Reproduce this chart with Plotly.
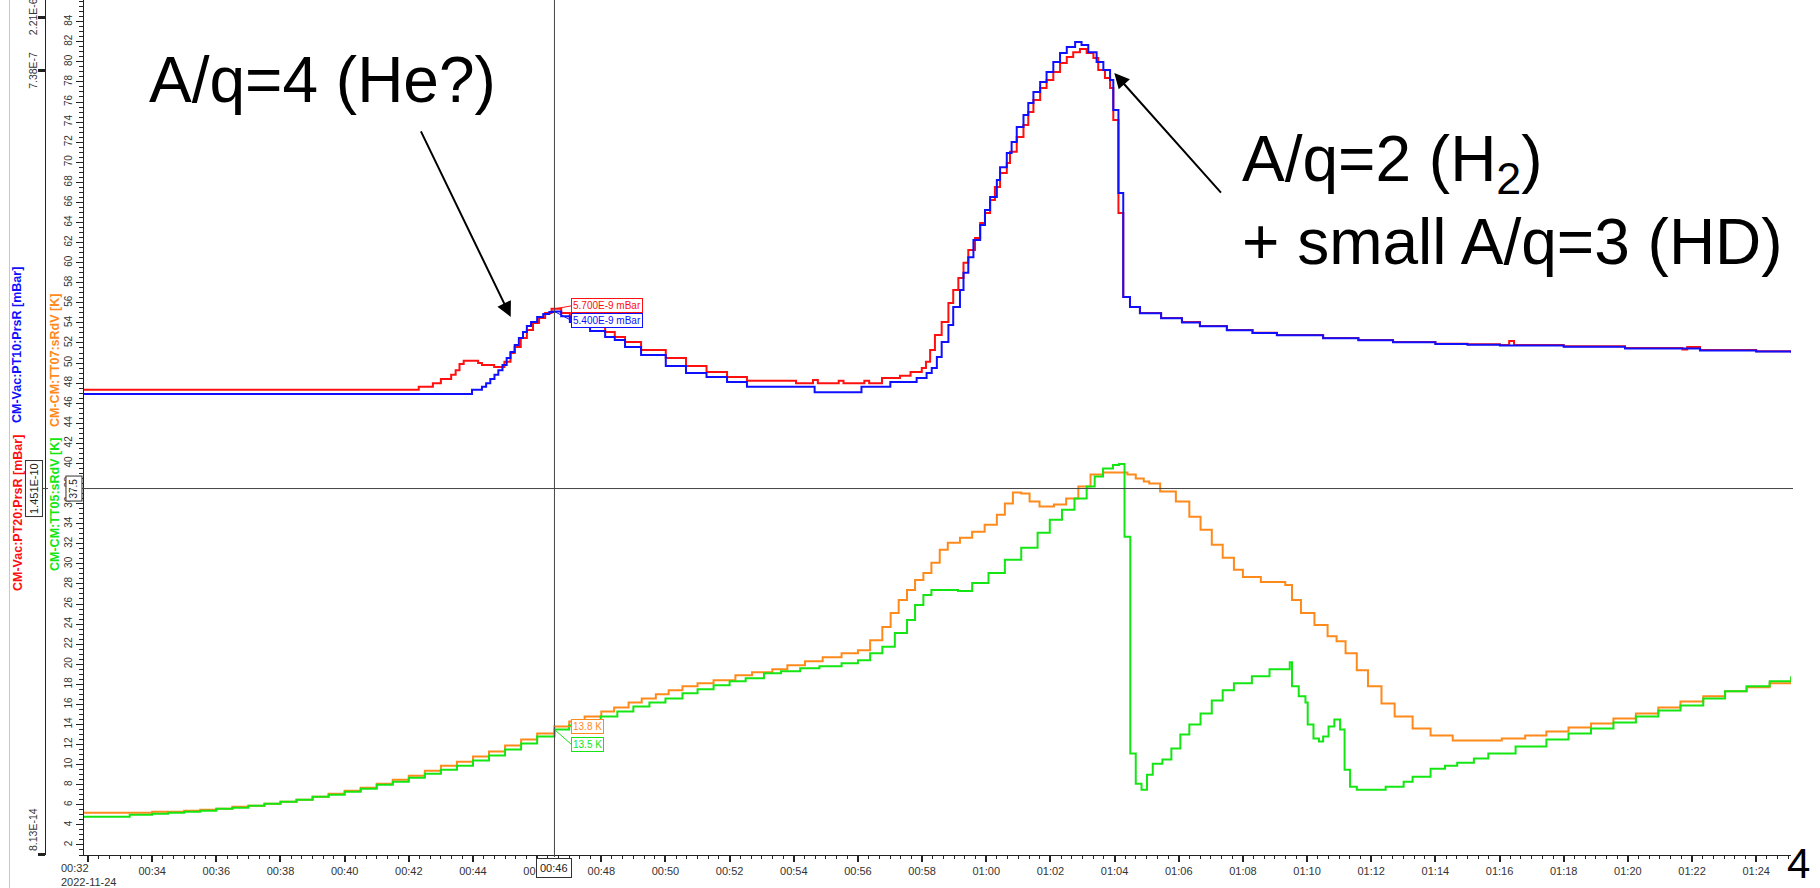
import numpy as np
import pandas as pd
import plotly.graph_objects as go

# ---------------------------------------------------------------- data
START = pd.Timestamp("2022-11-24 00:32:00")

# CM-Vac:PT20:PrsR  (red)  time in minutes after 00:32, pressure in mBar
pt20_min = [-0.13, 10.31, 10.75, 11.00, 11.32, 11.46, 11.58, 11.71, 12.16, 12.28, 12.66, 12.98,
            13.17, 13.30, 13.49, 13.68, 13.87, 14.06, 14.25, 14.45, 14.75, 15.02, 15.65, 16.12,
            16.42, 16.74, 17.24, 18.01, 18.64, 19.28, 19.92, 20.54, 22.07, 22.60, 22.75, 23.40,
            23.55, 24.20, 24.35, 24.75, 25.31, 25.64, 25.99, 26.12, 26.25, 26.40, 26.61, 26.82,
            26.97, 27.13, 27.29, 27.44, 27.65, 27.81, 27.96, 28.12, 28.27, 28.43, 28.64, 28.74,
            28.95, 29.16, 29.31, 29.47, 29.68, 29.88, 30.09, 30.30, 30.51, 30.71, 30.92, 31.13,
            31.34, 31.49, 31.70, 31.86, 31.96, 32.12, 32.27, 32.48, 32.79, 33.45, 34.10, 34.66,
            35.50, 36.30, 37.06, 38.50, 39.60, 40.68, 42.00, 43.00, 44.01, 44.30, 44.45, 46.00,
            47.91, 49.70, 49.85, 50.25, 52.00, 53.09]
pt20_mbar = [1.09e-9, 1.16e-9, 1.25e-9, 1.36e-9, 1.48e-9, 1.63e-9, 1.85e-9, 1.97e-9, 1.89e-9,
             1.81e-9, 1.74e-9, 1.93e-9, 2.31e-9, 2.62e-9, 3.14e-9, 3.70e-9, 4.27e-9, 4.73e-9,
             5.24e-9, 5.70e-9, 5.24e-9, 4.73e-9, 4.02e-9, 3.55e-9, 3.21e-9, 2.90e-9, 2.46e-9,
             2.09e-9, 1.77e-9, 1.57e-9, 1.42e-9, 1.31e-9, 1.25e-9, 1.33e-9, 1.25e-9, 1.31e-9,
             1.25e-9, 1.31e-9, 1.25e-9, 1.39e-9, 1.45e-9, 1.57e-9, 1.70e-9, 1.93e-9, 2.46e-9,
             3.34e-9, 4.36e-9, 6.43e-9, 8.38e-9, 1.07e-8, 1.46e-8, 1.90e-8, 2.42e-8, 3.29e-8,
             4.04e-8, 5.27e-8, 6.87e-8, 9.15e-8, 1.12e-7, 1.41e-7, 1.91e-7, 2.44e-7, 3.18e-7,
             4.07e-7, 5.20e-7, 6.12e-7, 7.20e-7, 8.66e-7, 9.79e-7, 1.08e-6, 1.15e-6, 1.06e-6,
             9.59e-7, 7.50e-7, 6.37e-7, 5.20e-7, 2.70e-7, 4.04e-8, 7.26e-9, 5.92e-9, 5.24e-9,
             4.73e-9, 4.35e-9, 4.02e-9, 3.70e-9, 3.50e-9, 3.34e-9, 3.14e-9, 3.02e-9, 2.90e-9,
             2.80e-9, 2.76e-9, 2.72e-9, 2.95e-9, 2.72e-9, 2.65e-9, 2.56e-9, 2.48e-9, 2.62e-9,
             2.46e-9, 2.40e-9, 2.35e-9]

# CM-Vac:PT10:PrsR  (blue)
pt10_min = [-0.13, 11.97, 12.28, 12.41, 12.54, 12.67, 12.79, 12.92, 13.05, 13.17, 13.30, 13.43,
            13.56, 13.68, 13.81, 14.00, 14.19, 14.38, 14.50, 14.75, 15.02, 15.65, 16.12, 16.42,
            16.74, 17.24, 18.01, 18.64, 19.28, 19.92, 20.54, 22.65, 24.11, 25.01, 25.83, 26.14,
            26.30, 26.46, 26.61, 26.82, 26.97, 27.18, 27.29, 27.44, 27.60, 27.81, 27.96, 28.12,
            28.33, 28.43, 28.64, 28.79, 28.95, 29.16, 29.31, 29.47, 29.68, 29.88, 30.09, 30.30,
            30.51, 30.77, 30.97, 31.18, 31.44, 31.65, 31.86, 31.96, 32.12, 32.27, 32.48, 32.79,
            33.45, 34.10, 34.66, 35.50, 36.30, 37.06, 38.50, 39.60, 40.68, 42.00, 43.00, 44.01,
            46.00, 47.91, 50.25, 52.00, 53.09]
pt10_mbar = [1.00e-9, 1.09e-9, 1.16e-9, 1.25e-9, 1.36e-9, 1.48e-9, 1.63e-9, 1.81e-9, 2.09e-9,
             2.36e-9, 2.72e-9, 3.14e-9, 3.55e-9, 4.02e-9, 4.36e-9, 4.83e-9, 5.13e-9, 5.34e-9,
             5.40e-9, 4.90e-9, 4.36e-9, 3.63e-9, 3.21e-9, 3.02e-9, 2.62e-9, 2.22e-9, 1.77e-9,
             1.54e-9, 1.42e-9, 1.28e-9, 1.16e-9, 1.04e-9, 1.16e-9, 1.28e-9, 1.39e-9, 1.54e-9,
             1.70e-9, 2.13e-9, 2.90e-9, 4.10e-9, 5.92e-9, 8.38e-9, 1.19e-8, 1.64e-8, 2.33e-8,
             3.16e-8, 4.30e-8, 5.60e-8, 7.93e-8, 1.03e-7, 1.38e-7, 1.72e-7, 2.34e-7, 2.99e-7,
             3.82e-7, 4.79e-7, 5.87e-7, 7.20e-7, 8.84e-7, 1.06e-6, 1.20e-6, 1.33e-6, 1.25e-6,
             1.08e-6, 8.84e-7, 7.50e-7, 6.12e-7, 3.31e-7, 6.08e-8, 7.26e-9, 5.92e-9, 5.20e-9,
             4.70e-9, 4.32e-9, 4.00e-9, 3.68e-9, 3.48e-9, 3.32e-9, 3.12e-9, 3.00e-9, 2.88e-9,
             2.78e-9, 2.74e-9, 2.70e-9, 2.63e-9, 2.54e-9, 2.44e-9, 2.38e-9, 2.33e-9]

# CM-CM:TT07:sRdV  (orange)  temperature in K
tt07_min = [-0.13, 0.5, 1.0, 1.5, 2.0, 2.5, 3.0, 3.5, 4.0, 4.5, 5.0, 5.5, 6.0, 6.5, 7.0, 7.5,
            8.0, 8.5, 9.0, 9.5, 10.0, 10.5, 11.0, 11.5, 12.0, 12.5, 13.0, 13.5, 14.0, 14.54,
            15.0, 15.48, 16.0, 16.4,
            16.85, 17.26, 17.7, 18.1, 18.53, 19.0, 19.5, 20.18, 20.7, 21.33, 21.8, 22.35, 22.9,
            23.49, 24.0, 24.38, 24.76, 25.02, 25.27, 25.53, 25.78, 26.04, 26.29, 26.55, 26.8,
            27.18, 27.56, 27.95, 28.33, 28.58, 28.83, 29.09, 29.35, 29.66, 30.11, 30.49, 30.87,
            31.25, 31.64, 32.02, 32.40, 32.66, 32.91, 33.08, 33.42, 33.91, 34.33, 34.68, 35.03,
            35.37, 35.72, 36.0, 36.56, 37.32, 37.53, 37.81, 38.23, 38.64, 38.92, 39.2, 39.55,
            39.9, 40.32, 40.73, 41.29, 41.85, 42.54, 43.38, 44.07, 44.8, 45.46, 46.15, 46.85,
            47.55, 48.25, 48.95, 49.64, 50.35, 51.03, 51.7, 52.42, 53.09]
tt07_K = [5.2, 5.2, 5.2, 5.2, 5.3, 5.3, 5.4, 5.5, 5.6, 5.8, 5.9, 6.1, 6.3, 6.5, 6.8, 7.1, 7.4,
          7.7, 8.1, 8.5, 8.9, 9.4, 9.9, 10.3, 10.8, 11.3, 11.9, 12.5, 13.1, 13.8,
          14.3, 14.8, 15.3, 15.7, 16.2, 16.6, 17.0, 17.4, 17.8, 18.1, 18.4, 18.9, 19.2, 19.5, 19.9,
          20.3, 20.7, 21.1, 21.4, 22.4, 23.7, 25.1, 26.4, 27.4, 28.4, 29.1, 30.1, 31.4, 32.1, 32.6,
          33.2, 33.9, 34.9, 36.0, 37.1, 37.0, 36.2, 35.7, 35.9, 36.5, 37.7, 38.9, 39.1, 39.1, 38.9,
          38.5, 38.2, 38.0, 37.2, 36.2, 34.7, 33.4, 31.9, 30.6, 29.4, 28.7, 28.2, 27.9, 26.4, 25.1,
          23.9, 22.8, 22.3, 21.1, 19.4, 17.8, 16.1, 14.8, 13.6, 12.9, 12.4, 12.4, 12.6, 12.9, 13.3,
          13.7, 14.1, 14.6, 15.1, 15.7, 16.3, 16.8, 17.3, 17.7, 18.1, 18.6]

# CM-CM:TT05:sRdV  (green)
tt05_min = [-0.13, 0.5, 1.0, 1.3, 2.0, 2.5, 3.0, 3.5, 4.0, 4.5, 5.0, 5.5, 6.0, 6.5, 7.0, 7.5,
            8.0, 8.5, 9.0, 9.5, 10.0, 10.5, 11.0, 11.5, 12.0, 12.5, 13.0, 13.5, 14.0, 14.54,
            15.0, 15.5, 15.98,
            16.5, 17.0, 17.5, 18.0, 18.53, 19.0, 19.5, 20.0, 20.5, 21.07, 21.6, 22.2, 22.8, 23.49,
            24.0, 24.38, 24.76, 25.15, 25.53, 25.78, 26.04, 26.29, 26.8, 27.12, 27.56, 28.07,
            28.58, 29.09, 29.6, 29.98, 30.36, 30.75, 31.13, 31.38, 31.64, 31.95, 32.14, 32.31,
            32.49, 32.66, 32.84, 33.01, 33.19, 33.49, 33.77, 34.05, 34.33, 34.68, 35.03, 35.37,
            35.72, 36.28, 36.83, 37.46, 37.53, 37.74, 37.95, 38.02, 38.2, 38.37, 38.5, 38.67,
            38.85, 39.03, 39.17, 39.34, 39.55, 40.45, 41.01, 41.29, 41.85, 42.3, 42.68, 43.2,
            43.65, 44.5, 45.46, 46.15, 46.85, 47.55, 48.25, 48.95, 49.64, 50.35, 51.03, 51.7,
            52.42, 53.09]
tt05_K = [4.8, 4.8, 4.8, 5.0, 5.1, 5.2, 5.3, 5.4, 5.6, 5.7, 5.9, 6.1, 6.3, 6.5, 6.8, 7.0, 7.3,
          7.6, 8.0, 8.3, 8.7, 9.1, 9.5, 9.9, 10.4, 10.9, 11.5, 12.1, 12.8, 13.5,
          13.9, 14.3, 14.8, 15.3, 15.8, 16.2, 16.6, 17.1, 17.5, 17.9, 18.3, 18.6, 19.1, 19.3, 19.6,
          19.8, 20.1, 20.4, 21.1, 21.75, 23.1, 24.4, 25.9, 26.9, 27.4, 27.4, 27.3, 28.1, 29.1, 30.4,
          31.6, 33.1, 34.4, 35.4, 36.5, 37.7, 38.7, 39.5, 39.85, 39.95, 32.7, 11.1, 8.1, 7.5, 9.0,
          10.1, 10.5, 11.6, 13.0, 14.0, 15.1, 16.4, 17.4, 18.1, 18.8, 19.5, 20.2, 17.8, 16.8, 16.2,
          14.0, 12.6, 12.3, 12.8, 13.8, 14.5, 13.5, 9.5, 7.8, 7.5, 7.8, 8.3, 8.8, 9.6, 9.9, 10.2,
          10.6, 11.1, 11.8, 12.5, 13.1, 13.6, 14.2, 14.8, 15.4, 15.9, 16.6, 17.3, 17.8, 18.3, 18.8]

# cursor read-outs
cursor_min = 14.54
cursor_pt20, cursor_pt10 = 5.700e-9, 5.400e-9
cursor_tt07, cursor_tt05 = 13.8, 13.5
cursor_level_K, cursor_level_mbar = 37.5, 1.451e-10

# axes
x_range_min = [-0.125, 53.085]
x_tick_min = list(range(0, 53, 2))
temp_range = [1.0, 86.16]
temp_ticks = list(range(2, 85, 2))
pres_range_log = [-13.09, -5.5036]
pres_ticks = [8.13e-14, 7.38e-7, 2.21e-6]
pres_ticktext = ["8.13E-14", "7.38E-7", "2.21E-6"]

# ---------------------------------------------------------------- helpers
W, H = 1820, 888
PB = 855  # bottom of plotting area in px


def px(x):
    return x / W


def py(y):
    return (PB - y) / PB


def at(m):
    return START + pd.to_timedelta(np.asarray(m, dtype=float), unit="min")


def sci(v):
    mant, ex = f"{v:.3E}".split("E")
    return f"{mant}E{int(ex)}"


RED, BLUE, ORANGE, GREEN = "#ff1010", "#1010ff", "#ff8a1c", "#14e614"
INK = "#222222"
FONT = "Liberation Sans, Arial, sans-serif"

fig = go.Figure()
fig.add_trace(go.Scatter(x=at(tt07_min), y=tt07_K, mode="lines", name="CM-CM:TT07:sRdV",
                         line=dict(color=ORANGE, width=2, shape="hv")))
fig.add_trace(go.Scatter(x=at(tt05_min), y=tt05_K, mode="lines", name="CM-CM:TT05:sRdV",
                         line=dict(color=GREEN, width=2, shape="hv")))
fig.add_trace(go.Scatter(x=at(pt20_min), y=pt20_mbar, yaxis="y2", mode="lines", name="CM-Vac:PT20:PrsR",
                         line=dict(color=RED, width=2, shape="hv")))
fig.add_trace(go.Scatter(x=at(pt10_min), y=pt10_mbar, yaxis="y2", mode="lines", name="CM-Vac:PT10:PrsR",
                         line=dict(color=BLUE, width=2, shape="hv")))

tick_times = at(x_tick_min)
tick_text = ["" if i == 0 else t.strftime("%H:%M") for i, t in enumerate(tick_times)]
cursor_t = at([cursor_min])[0]

fig.update_layout(
    width=W, height=H, template="none",
    margin=dict(l=0, r=0, t=0, b=H - PB, pad=0),
    paper_bgcolor="white", plot_bgcolor="white", showlegend=False,
    font=dict(family=FONT, color="#333", size=11),
    xaxis=dict(type="date", domain=[px(84), px(1791)], range=list(at(x_range_min)),
               tickmode="array", tickvals=list(tick_times), ticktext=tick_text,
               ticks="outside", ticklen=6, tickwidth=2, tickcolor=INK,
               showline=True, linecolor=INK, linewidth=1, showgrid=False, zeroline=False,
               tickfont=dict(size=11, color="#333"), automargin=False,
               minor=dict(tickmode="linear", tick0=START, dtick=20000, ticks="outside",
                          ticklen=3, tickwidth=1, tickcolor=INK, showgrid=False)),
    yaxis=dict(range=temp_range, tickmode="array", tickvals=temp_ticks, tickangle=-90,
               ticks="outside", ticklen=7, tickwidth=1, tickcolor=INK,
               showline=True, linecolor=INK, linewidth=1, showgrid=False, zeroline=False,
               tickfont=dict(size=10, color="#333"), automargin=False,
               minor=dict(tickmode="linear", tick0=0, dtick=0.5, ticks="outside",
                          ticklen=4, tickwidth=1, tickcolor=INK, showgrid=False)),
    yaxis2=dict(type="log", range=pres_range_log, overlaying="y", anchor="free",
                position=px(45), side="left", tickmode="array", tickvals=pres_ticks,
                showticklabels=False, ticks="outside", ticklen=7, tickwidth=3, tickcolor=INK,
                showline=True, linecolor=INK, linewidth=1, showgrid=False, zeroline=False,
                automargin=False),
)

shapes = [
    # frame line far left
    dict(type="line", xref="paper", yref="paper", x0=px(9.5), x1=px(9.5), y0=py(H), y1=1,
         line=dict(color="#c8c8c8", width=1)),
    # cursor vertical
    dict(type="line", xref="x", yref="paper", x0=cursor_t, x1=cursor_t, y0=py(857), y1=1,
         line=dict(color="#444", width=1)),
    # cursor horizontal
    dict(type="line", xref="paper", yref="y", x0=px(80), x1=px(1793), y0=cursor_level_K,
         y1=cursor_level_K, line=dict(color="#444", width=1)),
    dict(type="line", xref="paper", yref="y", x0=px(41), x1=px(48), y0=cursor_level_K,
         y1=cursor_level_K, line=dict(color="#444", width=1)),
]
fig.update_layout(shapes=shapes)

ann = []
# left axis titles (two colours per axis)
ann += [
    dict(text="<b>CM-Vac:PT20:PrsR [mBar]</b>", x=px(17.5), y=py(513.5), font=dict(size=12.5, color=RED)),
    dict(text="<b>CM-Vac:PT10:PrsR [mBar]</b>", x=px(17.5), y=py(345.5), font=dict(size=12.5, color=BLUE)),
    dict(text="<b>CM-CM:TT05:sRdV [K]</b>", x=px(55), y=py(505), font=dict(size=12.5, color=GREEN)),
    dict(text="<b>CM-CM:TT07:sRdV [K]</b>", x=px(55), y=py(361), font=dict(size=12.5, color=ORANGE)),
]
for a in ann:
    a.update(xref="paper", yref="paper", textangle=-90, showarrow=False,
             xanchor="center", yanchor="middle", font=dict(family=FONT, **a["font"]))

# pressure axis labels
for v, t in zip(pres_ticks, pres_ticktext):
    d = dict(text=t, xref="paper", yref="y2", x=px(33), y=np.log10(v), textangle=-90, showarrow=False,
             xanchor="center", yanchor="middle", font=dict(family=FONT, size=10.5, color="#333"))
    if v == pres_ticks[0]:
        d.update(yref="paper", y=py(830))
    ann.append(d)

# cursor boxes on the axes
ann.append(dict(text=sci(cursor_level_mbar), xref="paper", yref="y2",
                x=px(33.5), y=np.log10(cursor_level_mbar), textangle=-90, showarrow=False,
                xanchor="center", yanchor="middle", font=dict(family=FONT, size=11, color="#222"),
                bordercolor="#333", borderwidth=1, borderpad=2, bgcolor="white"))
ann.append(dict(text=f"{cursor_level_K}", xref="paper", yref="y", x=px(74), y=cursor_level_K,
                textangle=-90, showarrow=False, xanchor="center", yanchor="middle",
                font=dict(family=FONT, size=10, color="#222"),
                bordercolor="#333", borderwidth=1, borderpad=2, bgcolor="white"))
ann.append(dict(text=cursor_t.strftime("%H:%M"), xref="x", yref="paper", x=cursor_t, y=py(867.5),
                showarrow=False, xanchor="center", yanchor="middle",
                font=dict(family=FONT, size=11, color="#222"),
                bordercolor="#333", borderwidth=1, borderpad=3, bgcolor="white"))
# first tick label with date
ann.append(dict(text=tick_times[0].strftime("%H:%M") + "<br>" + START.strftime("%Y-%m-%d"),
                xref="x", yref="paper", x=tick_times[0], y=py(860), showarrow=False,
                xanchor="center", yanchor="top", align="left",
                font=dict(family=FONT, size=11, color="#333")))


# cursor read-out tags
def tag(yref, yval, color, ay, text):
    return dict(text=text, xref="x", yref=yref, x=cursor_t, y=yval, showarrow=True,
                arrowhead=0, arrowwidth=1, arrowcolor=color, ax=17, ay=ay,
                xanchor="left", yanchor="middle", font=dict(family=FONT, size=10, color=color),
                bordercolor=color, borderwidth=1, borderpad=1, bgcolor="white")


ann.append(tag("y2", np.log10(cursor_pt20), RED, -3, f"{sci(cursor_pt20)} mBar"))
ann.append(tag("y2", np.log10(cursor_pt10), BLUE, 9, f"{sci(cursor_pt10)} mBar"))
ann.append(tag("y", cursor_tt07, ORANGE, 0, f"{cursor_tt07} K"))
ann.append(tag("y", cursor_tt05, GREEN, 15, f"{cursor_tt05} K"))

# big slide annotations
BIG = dict(family=FONT, size=64, color="black")
ann.append(dict(text="A/q=4 (He?)", xref="paper", yref="paper", x=px(147), y=py(80),
                xanchor="left", yanchor="middle", showarrow=False, font=BIG))
ann.append(dict(text="A/q=2 (H<sub>2</sub>)<br>+ small A/q=3 (HD)", xref="paper", yref="paper",
                x=px(1240), y=py(121), xanchor="left", yanchor="top", align="left",
                showarrow=False, font=BIG))
ann.append(dict(text="", xref="paper", yref="paper", x=px(510.7), y=py(316.9), showarrow=True,
                ax=-90.5, ay=-187, arrowhead=2, arrowsize=1.5, arrowwidth=2, arrowcolor="black"))
ann.append(dict(text="", xref="paper", yref="paper", x=px(1114.3), y=py(73.1), showarrow=True,
                ax=108, ay=121, arrowhead=2, arrowsize=1.5, arrowwidth=2, arrowcolor="black"))
ann.append(dict(text="4", xref="paper", yref="paper", x=px(1798), y=py(863), showarrow=False,
                xanchor="center", yanchor="middle", font=dict(family=FONT, size=42, color="black")))
ann.append(dict(text="g", xref="paper", yref="paper", x=px(592), y=py(3), showarrow=False,
                xanchor="center", yanchor="bottom", font=BIG))

fig.update_layout(annotations=ann)
fig.write_html("out.html")
